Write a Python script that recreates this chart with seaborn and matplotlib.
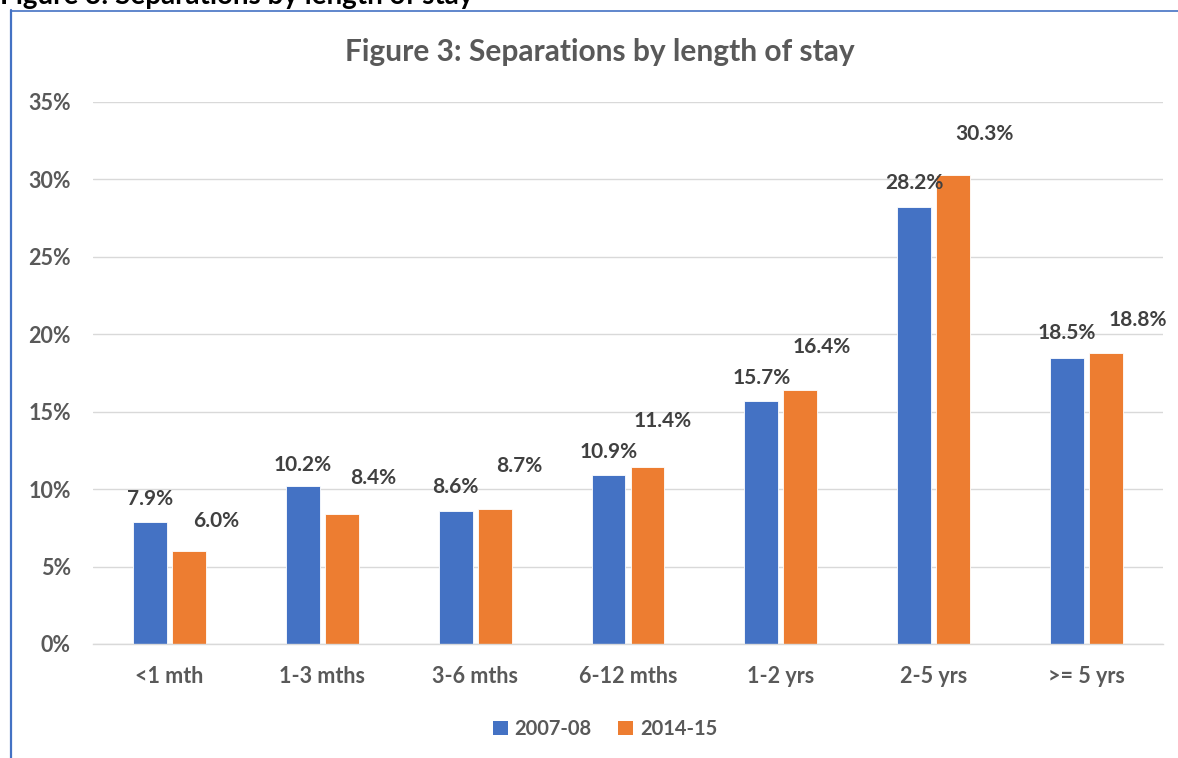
import matplotlib
matplotlib.use("Agg")
import matplotlib.pyplot as plt
from matplotlib.lines import Line2D
from matplotlib.patches import Patch
import numpy as np
import pandas as pd
import seaborn as sns

# Length-of-stay categories and share of separations (%)
categories = ["<1 mth", "1-3 mths", "3-6 mths", "6-12 mths", "1-2 yrs", "2-5 yrs", ">= 5 yrs"]
series_names = ["2007-08", "2014-15"]
share_2007_08 = [7.9, 10.2, 8.6, 10.9, 15.7, 28.2, 18.5]
share_2014_15 = [6.0, 8.4, 8.7, 11.4, 16.4, 30.3, 18.8]
y_ticks = [0, 5, 10, 15, 20, 25, 30, 35]
title = "Figure 3: Separations by length of stay"

# Label placement offsets (pixels) relative to each bar's top centre
label_offsets = {
    "2007-08": [(0, 23), (0, 21), (0, 24), (0, 23), (0, 23), (0, 24), (0, 25)],
    "2014-15": [(27, 30), (31, 36), (25, 43), (15, 46), (21, 43), (31, 41), (32, 33)],
}

BLUE = "#4472C4"
ORANGE = "#ED7D31"
GRID = "#D9D9D9"
TEXT = "#595959"
LABEL = "#404040"

df = pd.DataFrame({
    "category": categories * 2,
    "series": [series_names[0]] * len(categories) + [series_names[1]] * len(categories),
    "share": share_2007_08 + share_2014_15,
})

sns.set_theme(style="white")
plt.rcParams["font.family"] = ["Lato", "DejaVu Sans"]
plt.rcParams["font.weight"] = "bold"

W, H = 1178, 758
fig = plt.figure(figsize=(W / 100, H / 100), dpi=100)
ax = fig.add_axes([93 / W, 1 - 644 / H, (1163 - 93) / W, (644 - 102) / H])

sns.barplot(
    data=df, x="category", y="share", hue="series", order=categories,
    hue_order=series_names, palette=[BLUE, ORANGE], saturation=1, width=0.51, gap=0.13,
    legend=False, ax=ax, edgecolor="white", linewidth=0.6,
)

ax.set_xlim(-0.5, len(categories) - 0.5)
ax.set_ylim(0, 35)
ax.set_yticks(y_ticks)
ax.set_yticklabels([f"{t}%" for t in y_ticks])
ax.set_xlabel("")
ax.set_ylabel("")
ax.yaxis.grid(True, color=GRID, linewidth=1)
ax.set_axisbelow(True)
for side in ["top", "right", "left"]:
    ax.spines[side].set_visible(False)
ax.spines["bottom"].set_color(GRID)
ax.spines["bottom"].set_linewidth(1)

ax.set_xticks(np.arange(-0.5, len(categories), 1), minor=True)
ax.tick_params(axis="x", which="major", length=0, pad=16, labelsize=15.5, labelcolor=TEXT)
ax.tick_params(axis="x", which="minor", length=6, width=1, color=GRID)
ax.tick_params(axis="y", which="major", length=0, pad=16, labelsize=15.5, labelcolor=TEXT)
for lab in ax.get_xticklabels() + ax.get_yticklabels():
    lab.set_fontweight("bold")

# Value labels above each bar
for cont, name, values in zip(ax.containers, series_names, [share_2007_08, share_2014_15]):
    for bar, v, (dx, dy) in zip(cont.patches, values, label_offsets[name]):
        xc = bar.get_x() + bar.get_width() / 2
        ax.annotate(f"{v:.1f}%", xy=(xc, v), xytext=(dx, dy), textcoords="offset pixels",
                    ha="center", va="center", fontsize=15, fontweight="bold", color=LABEL)

# Chart title
fig.text(600 / W, 1 - 52 / H, title, ha="center", va="center", fontsize=21.5,
         fontweight="bold", color=TEXT)

# Legend below the axis labels
handles = [Patch(facecolor=BLUE, edgecolor="none"), Patch(facecolor=ORANGE, edgecolor="none")]
fig.legend(handles, series_names, loc="center", bbox_to_anchor=(605 / W, 1 - 729 / H),
           ncol=2, frameon=False, handlelength=0.75, handleheight=0.75,
           handletextpad=0.35, columnspacing=1.3,
           prop={"size": 14.5, "weight": "bold"}, labelcolor=TEXT)

# Chart frame edges and the document caption above it
fig.add_artist(Line2D([11 / W, 11 / W], [0, 1 - 10 / H], color=BLUE, linewidth=1.6))
fig.add_artist(Line2D([11 / W, 1], [1 - 11 / H, 1 - 11 / H], color=BLUE, linewidth=1.2))
fig.text(0 / W, 1 - 4 / H, title, ha="left", va="baseline", fontsize=20,
         fontweight="bold", color="black")

fig.savefig("out.png", dpi=100)
